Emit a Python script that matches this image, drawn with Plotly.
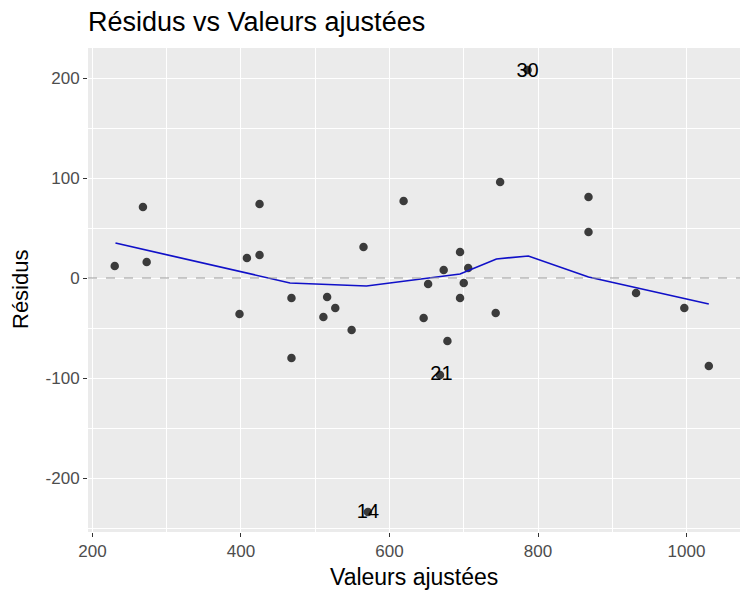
import plotly.graph_objects as go

# points
fitted = [230, 268, 273, 398, 408, 425, 425, 468, 468, 511, 516, 527, 549, 565, 619,
          646, 652, 668, 673, 678, 695, 695, 700, 706, 743, 749, 868, 868, 932, 997, 1030,
          786, 571]
residuals = [12, 71, 16, -36, 20, 74, 23, -20, -80, -39, -19, -30, -52, 31, 77,
             -40, -6, -97, 8, -63, 26, -20, -5, 10, -35, 96, 81, 46, -15, -30, -88,
             208, -234]

# labelled observations
label_x = [786, 670, 571]
label_y = [206, -97, -235]
label_text = ["30", "21", "14"]

# smoother
smooth_x = [231, 466, 569, 695, 744, 787, 868, 1030]
smooth_y = [35, -5, -8, 4, 19, 22, 1, -26]

y_ticks = [-200, -100, 0, 100, 200]
y_ticklabels = ["-200", "-100", "0", "100", "200"]

fig = go.Figure()

fig.add_hline(y=0, line=dict(color="#9a9a9a", width=1, dash="dash"))

fig.add_trace(go.Scatter(
    x=fitted, y=residuals, mode="markers",
    marker=dict(color="rgba(0,0,0,0.75)", size=8.5),
    showlegend=False,
))

fig.add_trace(go.Scatter(
    x=smooth_x, y=smooth_y, mode="lines",
    line=dict(color="#1010c8", width=1.7),
    showlegend=False,
))

fig.add_trace(go.Scatter(
    x=label_x, y=label_y, mode="text", text=label_text,
    textfont=dict(size=20, color="black", family="Liberation Sans"),
    showlegend=False,
))

# the page adds an 8px body margin, so margins are trimmed by that much
fig.update_layout(
    width=750, height=600,
    margin=dict(l=80, r=18, t=40, b=76),
    paper_bgcolor="white",
    plot_bgcolor="#EBEBEB",
    font=dict(family="Liberation Sans, Arial", color="#4D4D4D"),
    title=dict(
        text="Résidus vs Valeurs ajustées",
        x=80 / 750, xanchor="left",
        y=1 - 14 / 600, yanchor="middle",
        font=dict(size=27, color="black"),
    ),
)

# axis titles placed by hand so the plot area keeps its margins
fig.add_annotation(text="Valeurs ajustées", xref="paper", yref="paper",
                   x=0.5, y=0, yshift=-45, yanchor="middle", showarrow=False,
                   font=dict(size=23, color="black"))
fig.add_annotation(text="Résidus", xref="paper", yref="paper",
                   x=0, y=0.5, xshift=-68, xanchor="center", textangle=-90,
                   showarrow=False, font=dict(size=22, color="black"))

fig.update_xaxes(
    range=[194, 1072],
    tickvals=[200, 400, 600, 800, 1000],
    ticks="outside", ticklen=4, tickcolor="#333333",
    tickfont=dict(size=17),
    showgrid=True, gridcolor="white", gridwidth=1.4,
    minor=dict(tickvals=[300, 500, 700, 900], showgrid=True,
               gridcolor="white", gridwidth=0.6),
    zeroline=False, showline=False, automargin=False,
)

fig.update_yaxes(
    range=[-254, 230],
    tickvals=y_ticks, ticktext=y_ticklabels,
    ticks="outside", ticklen=4, tickcolor="#333333",
    tickfont=dict(size=17),
    showgrid=True, gridcolor="white", gridwidth=1.4,
    minor=dict(tickvals=[-250, -150, -50, 50, 150], showgrid=True,
               gridcolor="white", gridwidth=0.6),
    zeroline=False, showline=False, automargin=False,
)

fig.write_html("out.html")
